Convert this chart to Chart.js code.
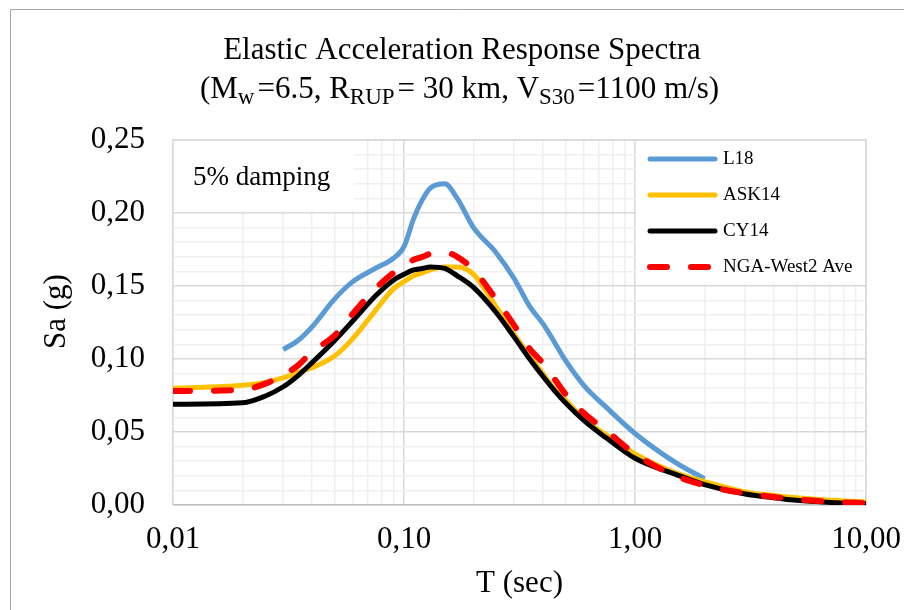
<!DOCTYPE html>
<html lang="en">
  <head>
    <meta charset="UTF-8" />
    <meta name="viewport" content="width=device-width, initial-scale=1.0" />
    <title>Elastic Acceleration Response Spectra</title>
    <style>
      html, body { margin: 0; padding: 0; background: #fff; }
    </style>
  </head>
  <body>
    <canvas id="myChart" width="904" height="610"></canvas>
    <script src="https://cdn.jsdelivr.net/npm/chart.js"></script>
    <script>
        // periods (sec) shared by all series
        const periods = [0.01, 0.02, 0.025, 0.03, 0.035, 0.04, 0.05, 0.06, 0.075, 0.09, 0.1, 0.11, 0.12, 0.13, 0.15, 0.17,
                         0.2, 0.25, 0.3, 0.35, 0.4, 0.45, 0.5, 0.6, 0.75, 1, 1.5, 2, 3, 4, 5, 7.5, 10];

        const l18   = [null, null, null, 0.1065, 0.113, 0.122, 0.141, 0.153, 0.162, 0.169, 0.177, 0.196, 0.209, 0.217, 0.220, 0.210,
                       0.190, 0.173, 0.155, 0.136, 0.124, 0.111, 0.099, 0.082, 0.067, 0.049, 0.029, 0.018, null, null, null, null, null];
        const ask14 = [0.080, 0.082, 0.084, 0.087, 0.091, 0.094, 0.102, 0.114, 0.133, 0.148, 0.153, 0.157, 0.159, 0.161, 0.163, 0.163,
                       0.158, 0.136, 0.117, 0.102, 0.090, 0.079, 0.072, 0.059, 0.048, 0.035, 0.022, 0.016, 0.009, 0.0065, 0.005, 0.003, 0.002];
        const cy14  = [0.069, 0.070, 0.0745, 0.081, 0.089, 0.0975, 0.1125, 0.126, 0.143, 0.154, 0.158, 0.161, 0.162, 0.163, 0.162, 0.157,
                       0.149, 0.132, 0.115, 0.100, 0.088, 0.078, 0.070, 0.058, 0.046, 0.032, 0.021, 0.014, 0.0075, 0.005, 0.0032, 0.0015, 0.0008];
        const nga   = [0.078, 0.079, 0.083, 0.089, 0.096, 0.105, 0.116, 0.131, 0.148, 0.159, 0.164, 0.168, 0.170, 0.172, 0.173, 0.170,
                       0.161, 0.141, 0.123, 0.107, 0.097, 0.086, 0.076, 0.063, 0.051, 0.035, 0.020, 0.0135, 0.008, 0.0055, 0.0038, 0.002, 0.0013];

        const xMajor = [0.01, 0.1, 1, 10];
        const xTickLabels = ["0,01", "0,10", "1,00", "10,00"];
        const yTickLabels = ["0,00", "0,05", "0,10", "0,15", "0,20", "0,25"];

        const titleLine1 = "Elastic Acceleration Response Spectra";
        const titleLine2 = [
            {t: "(M"}, {t: "w", sub: true}, {t: "=6.5, R"}, {t: "RUP", sub: true},
            {t: "= 30 km, V"}, {t: "S30", sub: true}, {t: "=1100 m/s)"}
        ];
        const yTitle = "Sa (g)";
        const noteText = "5% damping";

        const FONT = "'Liberation Serif', 'Times New Roman', serif";
        Chart.defaults.font.family = FONT;
        Chart.defaults.color = "#000";

        const isDecade = v => Math.abs(Math.log10(v) - Math.round(Math.log10(v))) < 1e-6;
        const xGrid = [];
        [0.01, 0.1, 1].forEach(d => { for (let k = 1; k < 10; k++) xGrid.push(d * k); });
        xGrid.push(10);

        const pts = vals => periods.map((t, i) => ({x: t, y: vals[i]})).filter(p => p.y !== null);

        const frame = {
            id: 'frame',
            beforeDraw(chart) {
                const {ctx, width, height} = chart;
                ctx.save();
                ctx.fillStyle = '#fff';
                ctx.fillRect(0, 0, width, height);
                ctx.strokeStyle = '#a6a6a6';
                ctx.lineWidth = 1;
                ctx.beginPath();
                ctx.moveTo(10.5, height);
                ctx.lineTo(10.5, 9.5);
                ctx.lineTo(width, 9.5);
                ctx.stroke();
                ctx.restore();
            },
            beforeDatasetsDraw(chart) {
                const {ctx, chartArea: {left, top, right, bottom}} = chart;
                ctx.save();
                ctx.strokeStyle = '#d9d9d9';
                ctx.lineWidth = 1.5;
                ctx.beginPath();
                ctx.moveTo(left, top);
                ctx.lineTo(right, top);
                ctx.lineTo(right, bottom);
                ctx.stroke();
                // note box
                ctx.fillStyle = '#fff';
                ctx.fillRect(left + 1, top + 1, 180, 70);
                ctx.fillStyle = '#000';
                ctx.font = '27px ' + FONT;
                ctx.textBaseline = 'middle';
                ctx.fillText(noteText, left + 20, top + 38);
                // y axis title
                ctx.translate(57, (top + bottom) / 2 - 11);
                ctx.rotate(-Math.PI / 2);
                ctx.textAlign = 'center';
                ctx.font = '31px ' + FONT;
                ctx.fillText(yTitle, 0, 0);
                ctx.restore();
            }
        };

        const boxLegend = {
            id: 'boxLegend',
            afterDatasetsDraw(chart) {
                const {ctx, chartArea: {top, right}} = chart;
                const x0 = right - 230;
                ctx.save();
                ctx.fillStyle = '#fff';
                ctx.fillRect(x0, top + 1, 229, 143);
                ctx.font = '19px ' + FONT;
                ctx.textBaseline = 'middle';
                chart.data.datasets.forEach((ds, i) => {
                    const y = top + 19 + i * 36;
                    ctx.strokeStyle = ds.borderColor;
                    ctx.lineWidth = ds.borderWidth;
                    ctx.lineCap = 'round';
                    ctx.setLineDash(ds.borderDash || []);
                    ctx.beginPath();
                    ctx.moveTo(x0 + 14, y);
                    ctx.lineTo(x0 + 79, y);
                    ctx.stroke();
                    ctx.setLineDash([]);
                    ctx.fillStyle = '#000';
                    ctx.fillText(ds.label, x0 + 87, y);
                });
                ctx.restore();
            }
        };

        const twoLineTitle = {
            id: 'twoLineTitle',
            afterDraw(chart) {
                const {ctx} = chart;
                const cx = 460;
                ctx.save();
                ctx.fillStyle = '#000';
                ctx.textBaseline = 'alphabetic';
                ctx.textAlign = 'center';
                ctx.font = '31px ' + FONT;
                ctx.fillText(titleLine1, cx + 2, 59);
                ctx.textAlign = 'left';
                const fontOf = p => (p.sub ? '23px ' : '31px ') + FONT;
                let w = 0;
                titleLine2.forEach(p => { ctx.font = fontOf(p); w += ctx.measureText(p.t).width; });
                w += 10;
                let x = cx - w / 2;
                titleLine2.forEach(p => {
                    ctx.font = fontOf(p);
                    ctx.fillText(p.t, x, p.sub ? 104 : 98);
                    x += ctx.measureText(p.t).width + (p.sub ? 3 : 0);
                });
                ctx.restore();
            }
        };

        const common = {pointRadius: 0, fill: false, cubicInterpolationMode: 'monotone', borderJoinStyle: 'round'};

        const data = {
            datasets: [
                {...common, label: "L18", data: pts(l18), borderColor: "#5B9BD5", borderWidth: 5, order: 4},
                {...common, label: "ASK14", data: pts(ask14), borderColor: "#FFC000", borderWidth: 5, order: 3},
                {...common, label: "CY14", data: pts(cy14), borderColor: "#000000", borderWidth: 5, order: 2},
                {...common, label: "NGA-West2 Ave", data: pts(nga), borderColor: "#FF0000", borderWidth: 6,
                 borderDash: [17, 24], borderCapStyle: 'round', order: 1}
            ]
        };

        const config = {
            type: "line",
            data: data,
            plugins: [frame, boxLegend, twoLineTitle],
            options: {
                responsive: false,
                animation: false,
                devicePixelRatio: 1,
                layout: {padding: {top: 140, right: 38, left: 0, bottom: 0}},
                plugins: {
                    legend: {display: false},
                    tooltip: {enabled: false}
                },
                scales: {
                    x: {
                        type: 'logarithmic',
                        min: 0.01,
                        max: 10,
                        afterBuildTicks(scale) { scale.ticks = xGrid.map(v => ({value: v})); },
                        afterFit(scale) { scale.height = 105; scale.paddingLeft = 0; scale.paddingRight = 0; },
                        grid: {
                            color: c => (c.tick && isDecade(c.tick.value)) ? '#d9d9d9' : '#efefef',
                            lineWidth: 1.5,
                            drawTicks: false
                        },
                        border: {color: '#bfbfbf', width: 1.5},
                        ticks: {
                            autoSkip: false,
                            maxRotation: 0,
                            padding: 16,
                            font: {size: 31},
                            callback: function(value) {
                                const i = xMajor.findIndex(m => Math.abs(m - value) < 1e-9);
                                return i >= 0 ? xTickLabels[i] : '';
                            }
                        },
                        title: {display: true, text: "T (sec)", font: {size: 31}, padding: {top: 0, bottom: 8}}
                    },
                    y: {
                        min: 0,
                        max: 0.25,
                        afterBuildTicks(scale) { scale.ticks = Array.from({length: 26}, (_, k) => ({value: k / 100})); },
                        afterFit(scale) { scale.width = 173; scale.paddingTop = 0; scale.paddingBottom = 0; },
                        grid: {
                            color: c => (c.tick && Math.round(c.tick.value * 100) % 5 === 0) ? '#d9d9d9' : '#efefef',
                            lineWidth: 1.5,
                            drawTicks: false
                        },
                        border: {color: '#d9d9d9', width: 1.5},
                        ticks: {
                            autoSkip: false,
                            padding: 28,
                            font: {size: 31},
                            callback: function(value) {
                                const k = Math.round(value * 100);
                                return k % 5 === 0 ? yTickLabels[k / 5] : '';
                            }
                        },
                        title: {display: false}
                    }
                }
            }
        };

        const myChart = new Chart(document.getElementById("myChart"), config);
    </script>
  </body>
</html>
